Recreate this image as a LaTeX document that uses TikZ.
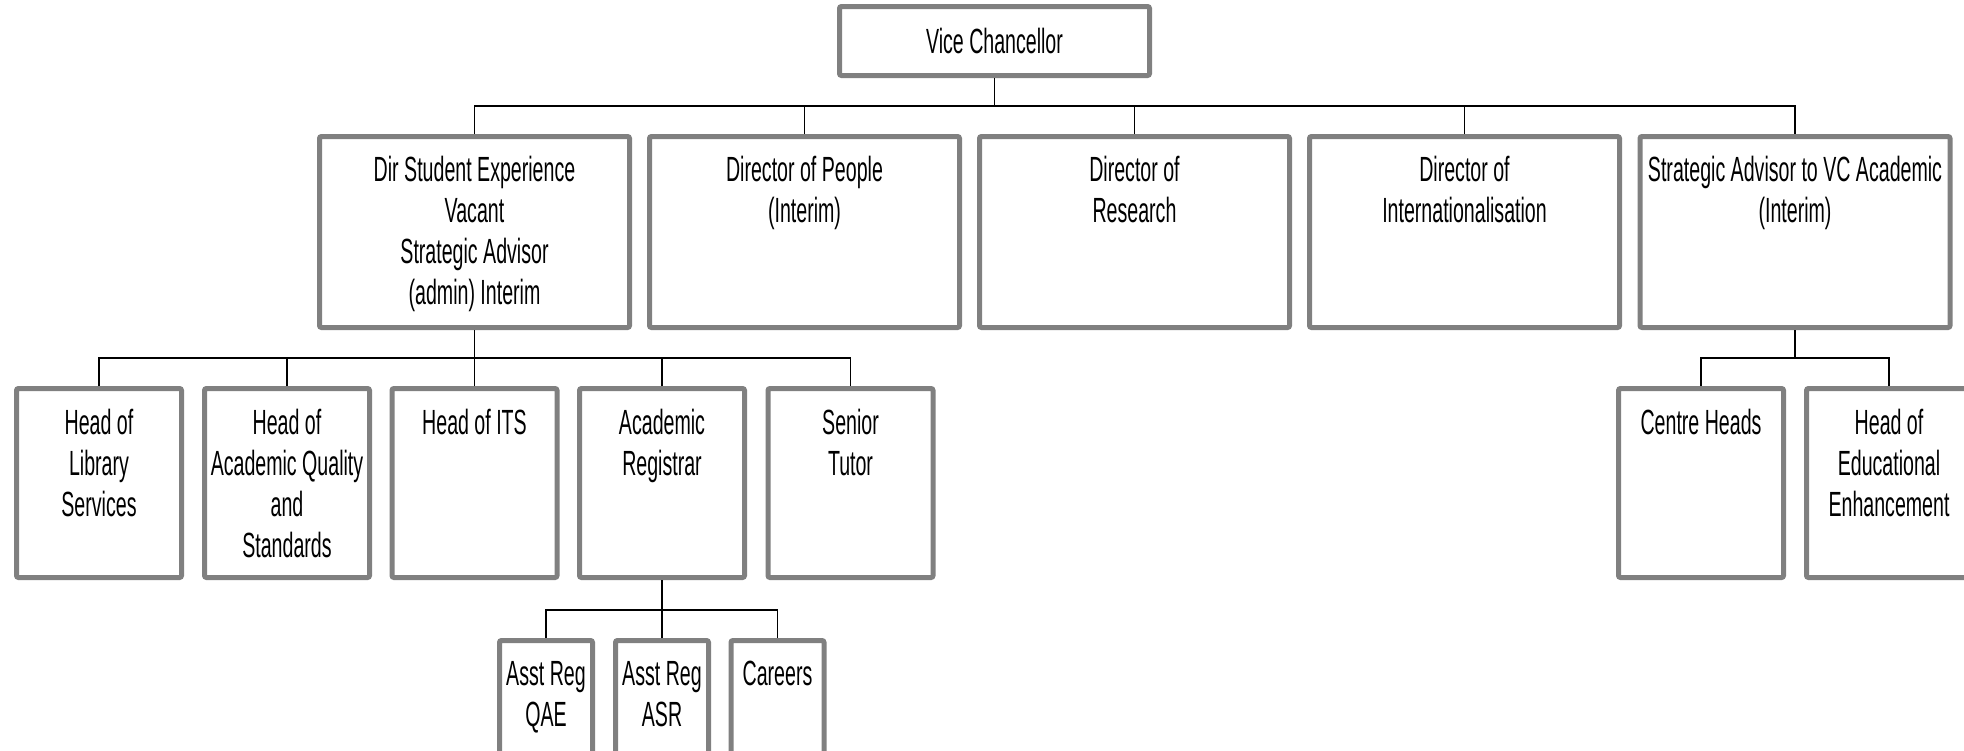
\documentclass[tikz,border=0pt]{standalone}
\usepackage{fontspec}
\newfontfamily\orgfont[FakeStretch=0.56]{Liberation Sans}
% text block pinned to the top of a box
\newcommand{\orgtext}[3]{\vbox to #2{\hbox to #1{\hss\begin{tabular}[t]{@{}c@{}}#3\end{tabular}\hss}\vfill}}
\newcommand{\dirtext}[1]{\orgtext{155pt}{79pt}{#1}}
\newcommand{\headtext}[1]{\orgtext{82.5pt}{77pt}{#1}}
\newcommand{\regtext}[1]{\orgtext{46.5pt}{64.2pt}{#1}}
\begin{document}
\begin{tikzpicture}[x=0.5pt,y=0.5pt,yscale=-1,xscale=1]
\tikzset{
  orgbox/.style={draw=gray, line width=2.5pt, rounded corners=1pt, fill=white, inner sep=0pt,
    font=\orgfont\fontsize{17.5pt}{20.5pt}\selectfont},
  vcbox/.style={orgbox, minimum width=155pt, minimum height=34.5pt},
  dirbox/.style={orgbox, minimum width=155pt, minimum height=95.5pt},
  headbox/.style={orgbox, minimum width=82.5pt, minimum height=94.5pt},
  regbox/.style={orgbox, minimum width=46.5pt, minimum height=80pt},
  link/.style={line width=0.9pt, black}
}
\useasboundingbox (0,0) rectangle (1964,750);
\clip (0,0) rectangle (1964,750);

\draw (994.5,41) node [vcbox] (vc) {Vice Chancellor};

\draw (474.5,232) node [dirbox] (dse) {\dirtext{Dir Student Experience\\Vacant\\Strategic Advisor\\(admin) Interim}};
\draw (804.5,232) node [dirbox] (dp) {\dirtext{Director of People\\(Interim)}};
\draw (1134.5,232) node [dirbox] (dr) {\dirtext{Director of\\Research}};
\draw (1464.5,232) node [dirbox] (di) {\dirtext{Director of\\Internationalisation}};
\draw (1795,232) node [dirbox] (sa) {\dirtext{Strategic Advisor to VC Academic\\(Interim)}};

\draw (99,483) node [headbox] (hls) {\headtext{Head of\\Library\\Services}};
\draw (287,483) node [headbox] (haq) {\headtext{Head of\\Academic Quality\\and\\Standards}};
\draw (474.5,483) node [headbox] (hits) {\headtext{Head of ITS}};
\draw (662,483) node [headbox] (ar) {\headtext{Academic\\Registrar}};
\draw (850.5,483) node [headbox] (st) {\headtext{Senior\\Tutor}};
\draw (1701,483) node [headbox] (ch) {\headtext{Centre Heads}};
\draw (1889,483) node [headbox] (hee) {\headtext{Head of\\Educational\\Enhancement}};

\draw (546,720.5) node [regbox] (qae) {\regtext{Asst Reg\\QAE}};
\draw (662,720.5) node [regbox] (asr) {\regtext{Asst Reg\\ASR}};
\draw (777.5,720.5) node [regbox] (car) {\regtext{Careers}};

% buses
\coordinate (busvc) at (994.5,106);
\coordinate (busdse) at (474.5,358);
\coordinate (busar) at (662,610);
\coordinate (bussa) at (1795,358);

\draw [link] (vc.south) -- (busvc);
\draw [link] (dse.north) |- (busvc) -| (sa.north);
\foreach \n in {dp,dr,di} \draw [link] (\n.north) -- (\n.north |- busvc);

\draw [link] (dse.south) -- (busdse);
\draw [link] (hls.north) |- (busdse) -| (st.north);
\foreach \n in {haq,hits,ar} \draw [link] (\n.north) -- (\n.north |- busdse);

\draw [link] (ar.south) -- (busar);
\draw [link] (qae.north) |- (busar) -| (car.north);
\draw [link] (asr.north) -- (asr.north |- busar);

\draw [link] (sa.south) -- (bussa);
\draw [link] (ch.north) |- (bussa) -| (hee.north);
\end{tikzpicture}
\end{document}
